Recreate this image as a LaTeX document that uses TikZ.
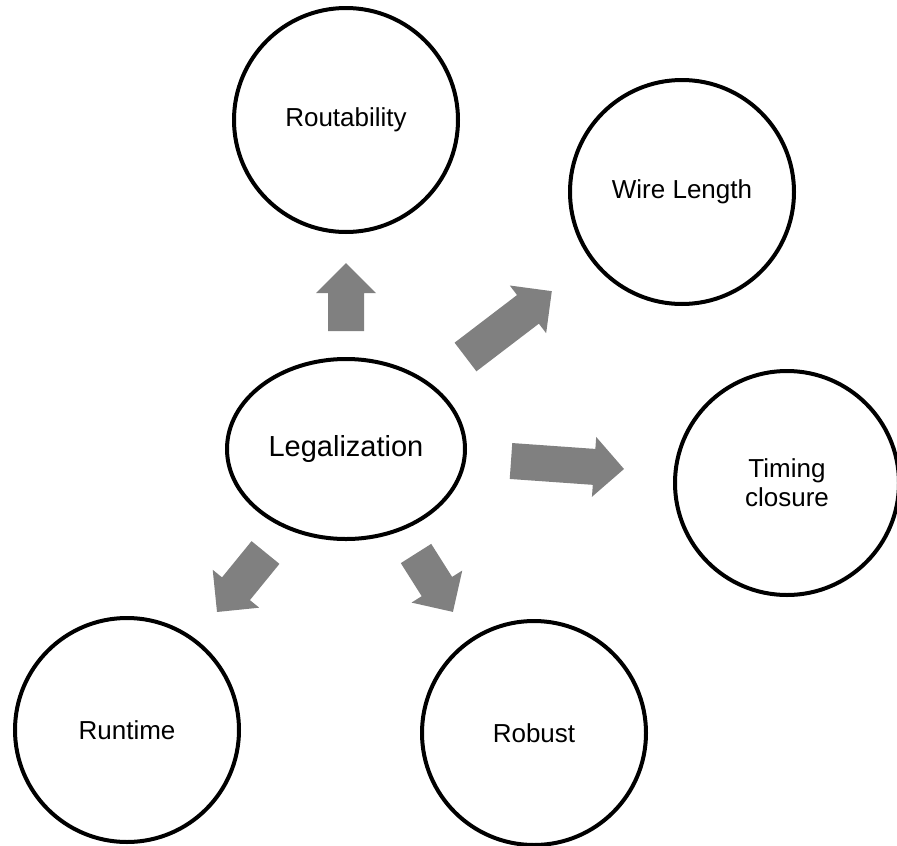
\documentclass[tikz,border=0pt]{standalone}
\usepackage{fontspec}
\setmainfont{Liberation Sans}
\usetikzlibrary{calc,shapes.geometric}

\definecolor{arrowgray}{HTML}{808080}

% block arrow from #1 (middle of the tail) to #2 (tip)
\newcommand\blockarrow[2]{%
  \path let \p1=($(#2)-(#1)$), \n1={atan2(\y1,\x1)}, \n2={veclen(\x1,\y1)} in
    \pgfextra{\xdef\barang{\n1}\xdef\barlen{\n2}};
  \begin{scope}[shift={(#1)}, rotate=\barang]
    \fill[arrowfill] (0pt,-18pt) -- ({\barlen-30pt},-18pt) -- ({\barlen-30pt},-30pt)
      -- (\barlen,0pt) -- ({\barlen-30pt},30pt) -- ({\barlen-30pt},18pt)
      -- (0pt,18pt) -- cycle;
  \end{scope}}

\begin{document}
\begin{tikzpicture}[x=1pt,y=-1pt,
  goal/.style={circle, draw, line width=4pt, minimum size=224pt, inner sep=0pt,
    align=center, font=\fontsize{26}{29}\selectfont},
  hub/.style={ellipse, draw, line width=4pt, minimum width=238pt, minimum height=180pt,
    inner sep=0pt, font=\fontsize{29}{33}\selectfont},
  arrowfill/.style={fill=arrowgray}]
  \useasboundingbox (0,0) rectangle (897,846);

  % central step and its goals
  \node[hub]  (leg) at (346,449) {Legalization};
  \node[goal] (rout) at (346,120) {Routability};
  \node[goal] (wire) at (682,192) {Wire Length};
  \node[goal] (timing) at (787,483) {Timing\\closure};
  \node[goal] (runtime) at (127,730) {Runtime};
  \node[goal] (robust) at (534,733) {Robust};

  % tails and tips of the block arrows
  \coordinate (routA) at (346,331);   \coordinate (routB) at (346,263);
  \coordinate (wireA) at (465.5,357); \coordinate (wireB) at (552,291);
  \coordinate (timA) at (511,461);    \coordinate (timB) at (624,469);
  \coordinate (runA) at (265.5,552.5);\coordinate (runB) at (217,612);
  \coordinate (robA) at (416,553.5);  \coordinate (robB) at (453,612);

  \blockarrow{routA}{routB}
  \blockarrow{wireA}{wireB}
  \blockarrow{timA}{timB}
  \blockarrow{runA}{runB}
  \blockarrow{robA}{robB}
\end{tikzpicture}
\end{document}
